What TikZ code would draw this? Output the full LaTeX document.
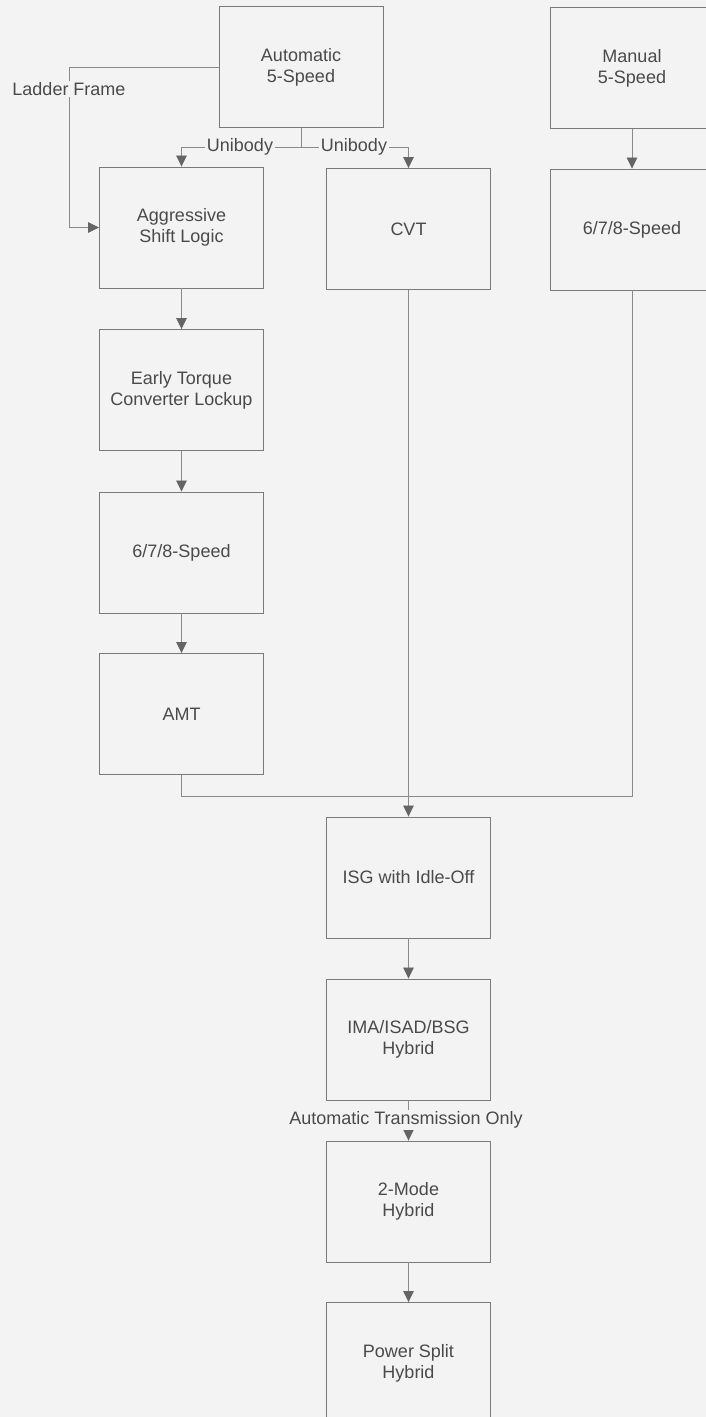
\documentclass[tikz,border=0pt]{standalone}
\usepackage{fontspec}
\setmainfont{Liberation Sans}
\usetikzlibrary{arrows.meta}
\definecolor{bg}{HTML}{F3F3F3}
\definecolor{edge}{HTML}{8A8A8A}
\definecolor{boxline}{HTML}{7A7A7A}
\definecolor{txt}{HTML}{4A4A4A}
\begin{document}
\begin{tikzpicture}[x=1pt,y=-1pt,
  stepbox/.style={draw=boxline,line width=0.9pt,fill=bg,minimum width=164pt,minimum height=121pt,
    inner sep=0pt,align=center,text=txt,font=\fontsize{18}{21}\selectfont},
  conn/.style={draw=edge,line width=0.8pt},
  arr/.style={conn,-{Triangle[width=10.5pt,length=11pt]},arrows={[fill=txt!85!white,color=txt!85!white]}},
  lbl/.style={fill=bg,inner sep=1.5pt,text=txt,font=\fontsize{18}{21}\selectfont}]
\useasboundingbox (0,0) rectangle (706,1417);
\fill[bg] (0,0) rectangle (706,1417);
\clip (0,0) rectangle (706,1417);

\node[stepbox] (auto) at (301,67) {Automatic\\5-Speed};
\node[stepbox] (manual) at (632,68) {Manual\\5-Speed};
\node[stepbox] (aggr) at (181.5,227.5) {Aggressive\\Shift Logic};
\node[stepbox] (cvt) at (408.5,229) {CVT};
\node[stepbox] (mspeed) at (632,229.5) {6/7/8-Speed};
\node[stepbox] (early) at (181.5,390) {Early Torque\\Converter Lockup};
\node[stepbox] (lspeed) at (181.5,552.5) {6/7/8-Speed};
\node[stepbox] (amt) at (181.5,714) {AMT};
\node[stepbox] (isg) at (408.5,877.5) {ISG with Idle-Off};
\node[stepbox] (ima) at (408.5,1039.5) {IMA/ISAD/BSG\\Hybrid};
\node[stepbox] (mode) at (408.5,1201.5) {2-Mode\\Hybrid};
\node[stepbox] (psplit) at (408.5,1363) {Power Split\\Hybrid};

\coordinate (ujunc) at (301,147);
\coordinate (merge) at (408.5,796);

% Unibody branches
\draw[conn] (auto.south) -- (ujunc);
\draw[arr] (ujunc) -- (aggr.north |- ujunc) -- (aggr.north);
\draw[arr] (ujunc) -- (cvt.north |- ujunc) -- (cvt.north);
\node[lbl] (ulab1) at (240,147) {Unibody};
\node[lbl] (ulab2) at (354,147) {Unibody};

% Ladder frame
\coordinate (lf1) at (69,67);
\coordinate (lf2) at (69,227.5);
\draw[arr] (auto.west) -- (lf1) -- (lf2) -- (aggr.west);
\node[lbl] (lflab) at (69,89) {Ladder Frame};

% Manual column
\draw[arr] (manual) -- (mspeed);

% Left column
\draw[arr] (aggr) -- (early);
\draw[arr] (early) -- (lspeed);
\draw[arr] (lspeed) -- (amt);

% Merge into ISG
\draw[conn] (amt.south) -- (amt.south |- merge) -- (merge);
\draw[conn] (mspeed.south) -- (mspeed.south |- merge) -- (merge);
\draw[arr] (cvt.south) -- (isg.north);

% Lower column
\draw[arr] (isg) -- (ima);
\draw[arr] (ima) -- (mode);
\node[lbl] (atlab) at (406,1120) {Automatic Transmission Only};
\draw[arr] (mode) -- (psplit);
\end{tikzpicture}
\end{document}
